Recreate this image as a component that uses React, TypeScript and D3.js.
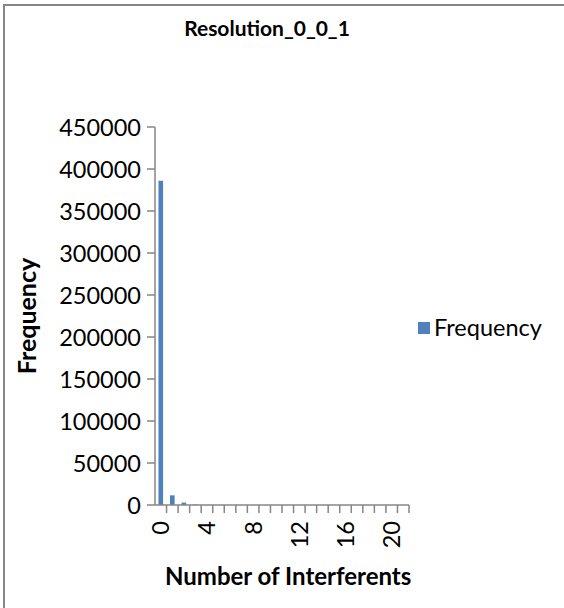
import React from "react";
import * as d3 from "d3";

const categories = ["0","1","2","3","4","5","6","7","8","9","10","11","12","13","14","15","16","17","18","19","20","More"];
const frequency = [386000, 11500, 2900, 600, 150, 40, 10, 0, 0, 0, 0, 0, 0, 0, 0, 0, 0, 0, 0, 0, 0, 0];
const yTicks = [0, 50000, 100000, 150000, 200000, 250000, 300000, 350000, 400000, 450000];
const title = "Resolution_0_0_1";
const xTitle = "Number of Interferents";
const yTitle = "Frequency";
const seriesName = "Frequency";

const FONT = "Lato, 'Open Sans', sans-serif";
const AXIS = "#868686";
const BLUE = "#4F81BD";

export default function App() {
  const left = 155, right = 409, top = 127, bottom = 505;
  const x = d3.scaleBand<string>().domain(categories).range([left, right]).paddingInner(0).paddingOuter(0);
  const y = d3.scaleLinear().domain([0, 450000]).range([bottom, top]);
  const bw = x.bandwidth();
  const barW = bw / 2.5;

  return (
    <svg width={564} height={608} style={{ position: "absolute", left: 0, top: 0, background: "#fff" }} fontFamily={FONT}>
      <rect x={0} y={0} width={564} height={608} fill="#fff" />
      <rect x={4} y={5} width={700} height={800} fill="none" stroke={AXIS} strokeWidth={2} />
      <text x={267} y={36} textAnchor="middle" fontSize={21} fontWeight="bold">{title}</text>
      {categories.map((c, i) => (
        <rect key={c} x={(x(c) as number) + (bw - barW) / 2} y={y(frequency[i])} width={barW} height={bottom - y(frequency[i])} fill={BLUE} />
      ))}
      <line x1={left} x2={left} y1={top} y2={bottom} stroke={AXIS} strokeWidth={1.5} />
      {yTicks.map(t => (
        <g key={t}>
          <line x1={left - 8} x2={left} y1={y(t)} y2={y(t)} stroke={AXIS} strokeWidth={1.5} />
          <text x={141} y={y(t) + 8.5} textAnchor="end" fontSize={23.5}>{t}</text>
        </g>
      ))}
      <line x1={left} x2={right} y1={bottom} y2={bottom} stroke={AXIS} strokeWidth={1.5} />
      {categories.map((c, i) => (
        <line key={"t" + c} x1={(x(c) as number) + bw} x2={(x(c) as number) + bw} y1={bottom} y2={bottom + 8} stroke={AXIS} strokeWidth={1.5} />
      ))}
      {categories.map((c, i) => i % 4 === 0 ? (
        <text key={"l" + c} transform={`translate(${(x(c) as number) + bw / 2 + 8.5},${bottom + 16}) rotate(-90)`} textAnchor="end" fontSize={23.5}>{c}</text>
      ) : null)}
      <text x={165} y={585} textAnchor="start" fontSize={24} fontWeight="bold">{xTitle}</text>
      <text transform={`translate(36,${(top + bottom) / 2}) rotate(-90)`} textAnchor="middle" fontSize={25} fontWeight="bold">{yTitle}</text>
      <rect x={418} y={322} width={12} height={12} fill={BLUE} />
      <text x={434} y={336} fontSize={23.5}>{seriesName}</text>
    </svg>
  );
}
